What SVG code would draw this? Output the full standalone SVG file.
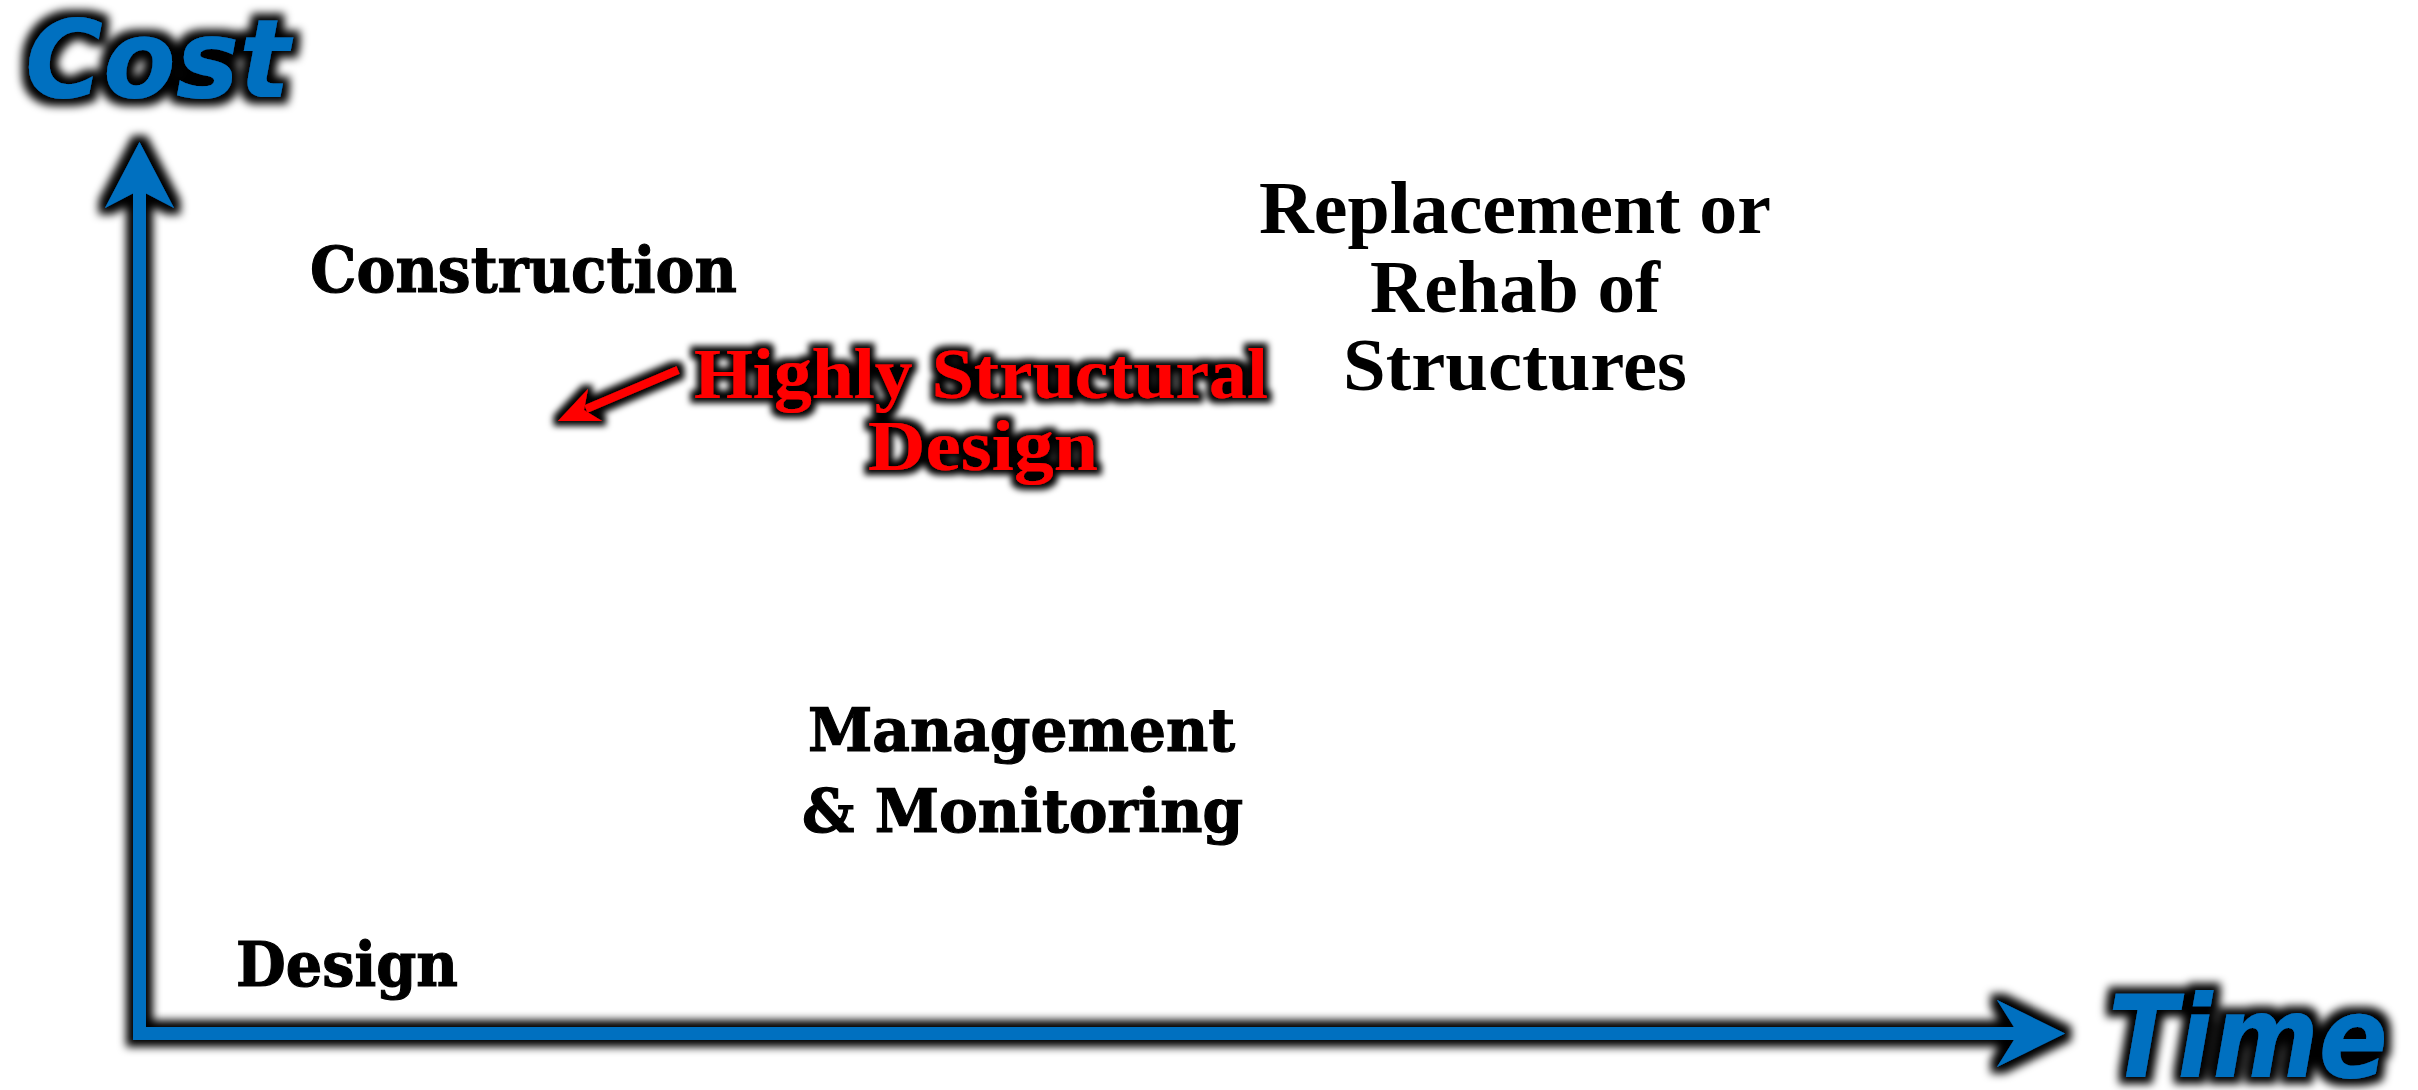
<svg xmlns="http://www.w3.org/2000/svg" width="2418" height="1090" viewBox="0 0 2418 1090">
<defs>
<style>
.axis{font-family:"DejaVu Sans","Verdana",sans-serif;font-weight:bold;font-style:italic;fill:#0070C0}
.geo{font-family:"DejaVu Serif","Georgia",serif;font-weight:bold;fill:#000;stroke:#000;stroke-width:1.2}
.tim{font-family:"Liberation Serif","Times New Roman",serif;font-weight:bold;fill:#000}
.red{font-family:"Liberation Serif","Times New Roman",serif;font-weight:bold;fill:#FF0000}
.blue{fill:#0070C0}
</style>
<filter id="glow" filterUnits="userSpaceOnUse" x="0" y="0" width="2418" height="1090">
<feMorphology in="SourceAlpha" operator="dilate" radius="7" result="d"/>
<feGaussianBlur in="d" stdDeviation="4" result="b"/>
<feFlood flood-color="#000"/>
<feComposite in2="b" operator="in" result="s"/>
<feMerge><feMergeNode in="s"/><feMergeNode in="SourceGraphic"/></feMerge>
</filter>
<filter id="glowS" filterUnits="userSpaceOnUse" x="0" y="0" width="2418" height="1090">
<feMorphology in="SourceAlpha" operator="dilate" radius="5" result="d"/>
<feGaussianBlur in="d" stdDeviation="3" result="b"/>
<feFlood flood-color="#000"/>
<feComposite in2="b" operator="in" result="s"/>
<feMerge><feMergeNode in="s"/><feMergeNode in="SourceGraphic"/></feMerge>
</filter>
</defs>
<rect width="2418" height="1090" fill="#fff"/>
<g id="connectors">
<g id="axes" filter="url(#glow)">
<rect class="blue" x="133" y="180" width="13" height="860"/>
<rect class="blue" x="133" y="1027" width="1888" height="13"/>
<polygon class="blue" points="139.5,142 174,208 139.5,190 105,208"/>
<polygon class="blue" points="2065,1033.5 1997,1000 2018,1033.5 1997,1067"/>
</g>
<g id="red-arrow" filter="url(#glowS)">
<line x1="678" y1="370" x2="586" y2="409" stroke="#FF0000" stroke-width="8"/>
<polygon fill="#FF0000" points="558,421 588,389 584,410 602,421"/>
</g>
</g>
<g id="cost-label" filter="url(#glow)"><text class="axis" x="25" y="97" font-size="108" textLength="265" lengthAdjust="spacingAndGlyphs">Cost</text></g>
<g id="time-label" filter="url(#glow)"><text class="axis" x="2108" y="1077" font-size="114" textLength="280" lengthAdjust="spacingAndGlyphs">Time</text></g>
<g id="construction"><text class="geo" x="310" y="292" font-size="64" textLength="427" lengthAdjust="spacingAndGlyphs">Construction</text></g>
<g id="design"><text class="geo" x="236" y="986" font-size="62" textLength="222" lengthAdjust="spacingAndGlyphs">Design</text></g>
<g id="management">
<text class="geo" x="808" y="751" font-size="60" textLength="427" lengthAdjust="spacingAndGlyphs">Management</text>
<text class="geo" x="802" y="832" font-size="60" textLength="441" lengthAdjust="spacingAndGlyphs">&amp; Monitoring</text>
</g>
<g id="replacement">
<text class="tim" x="1515" y="233" font-size="74" text-anchor="middle" textLength="512" lengthAdjust="spacingAndGlyphs">Replacement or</text>
<text class="tim" x="1515" y="312" font-size="74" text-anchor="middle" textLength="290" lengthAdjust="spacingAndGlyphs">Rehab of</text>
<text class="tim" x="1515" y="390" font-size="74" text-anchor="middle" textLength="344" lengthAdjust="spacingAndGlyphs">Structures</text>
</g>
<g id="highly-structural" filter="url(#glowS)">
<text class="red" x="981" y="398" font-size="72" text-anchor="middle" textLength="574" lengthAdjust="spacingAndGlyphs">Highly Structural</text>
<text class="red" x="983" y="470" font-size="72" text-anchor="middle" textLength="230" lengthAdjust="spacingAndGlyphs">Design</text>
</g>
</svg>
